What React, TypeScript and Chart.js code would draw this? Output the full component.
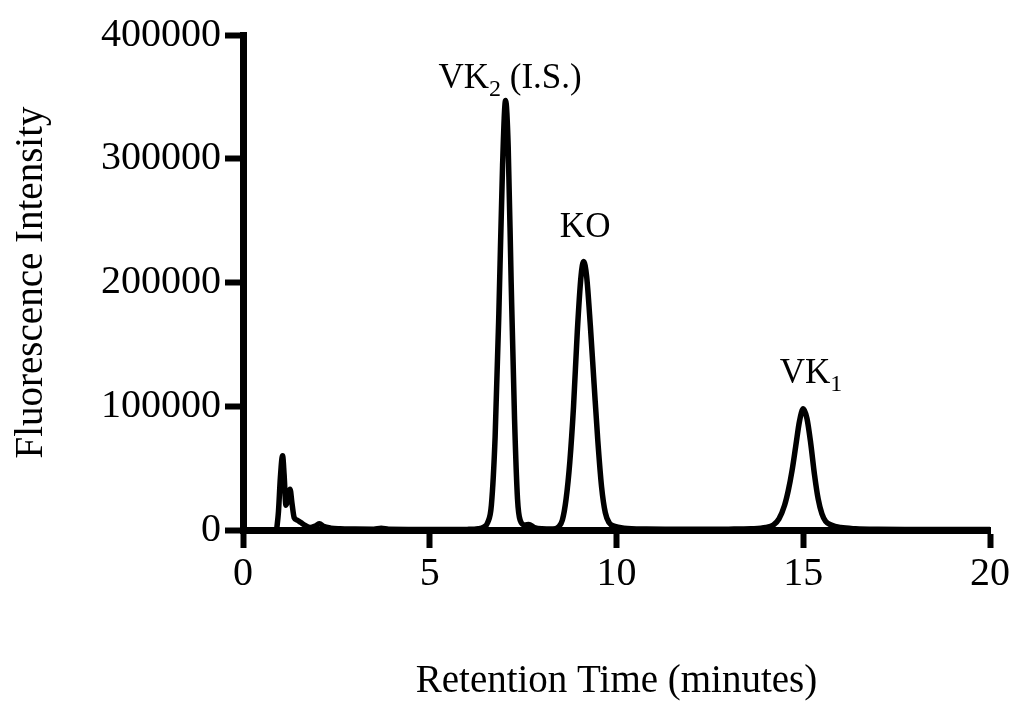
import React, { useEffect, useRef } from "react";
import { Chart, registerables } from "chart.js";

Chart.register(...registerables);

const retentionTime = [
  0.9, 0.95, 1.0, 1.06, 1.1, 1.15, 1.2, 1.26, 1.31, 1.37, 1.45, 1.55, 1.65, 1.8, 1.95, 2.05, 2.15, 2.35, 2.6,
  3.0, 3.5, 3.7, 3.9, 4.5, 5.0, 5.5, 6.0, 6.3, 6.45, 6.55, 6.65, 6.75, 6.85, 6.95, 7.03, 7.1, 7.18, 7.27,
  7.35, 7.42, 7.55, 7.65, 7.8, 8.0, 8.3, 8.45, 8.55, 8.65, 8.75, 8.85, 8.95, 9.05, 9.12, 9.2, 9.3, 9.4,
  9.5, 9.6, 9.7, 9.8, 9.95, 10.2, 10.8, 12.0, 13.0, 13.6, 14.0, 14.2, 14.35, 14.5, 14.6, 14.7, 14.8, 14.9,
  15.0, 15.1, 15.2, 15.3, 15.4, 15.5, 15.6, 15.75, 16.0, 16.4, 17.0, 18.0, 19.0, 20.0,
];

const fluorescence = [
  0, 15000, 42000, 60000, 45000, 20000, 24000, 33000, 22000, 10000, 8000, 6000, 4000, 2000, 3500, 5000, 3000,
  1500, 1000, 800, 700, 1500, 600, 500, 400, 400, 500, 1000, 2500, 6000, 20000, 75000, 175000, 295000, 347000,
  310000, 200000, 90000, 25000, 8000, 4000, 4500, 2000, 1000, 800, 2500, 8000, 25000, 55000, 100000, 160000,
  205000, 217000, 205000, 165000, 118000, 72000, 35000, 14000, 6000, 3000, 1500, 800, 600, 700, 1000, 2000,
  4000, 9000, 20000, 32000, 48000, 68000, 88000, 98000, 90000, 70000, 45000, 25000, 13000, 7000, 4000, 2000,
  1000, 600, 500, 500, 500,
];

const xTicks = [0, 5, 10, 15, 20];
const yTicks = [0, 100000, 200000, 300000, 400000];

const peakNames = ["VK", "KO", "VK"];
const peakSubscripts = ["2", "", "1"];
const peakSuffixes = [" (I.S.)", "", ""];
const labelTime = [7.15, 9.16, 15.21];
const labelValue = [357000, 236800, 118800];

const FONT = "'Liberation Serif', 'Times New Roman', serif";

export default function App() {
  const ref = useRef<HTMLCanvasElement>(null);

  useEffect(() => {
    if (!ref.current) return;
    const points = retentionTime.map((t, i) => ({ x: t, y: fluorescence[i] }));

    const labelPlugin = {
      id: "peakLabels",
      afterDatasetsDraw(chart: any) {
        const { ctx, scales } = chart;
        const xs = scales.x;
        const ys = scales.y;
        ctx.save();
        ctx.fillStyle = "#000";
        ctx.textBaseline = "alphabetic";
        ctx.textAlign = "left";
        const mainFont = `35px ${FONT}`;
        const subFont = `24px ${FONT}`;
        for (let i = 0; i < peakNames.length; i++) {
          ctx.font = mainFont;
          const wMain = ctx.measureText(peakNames[i]).width;
          const wRest = ctx.measureText(peakSuffixes[i]).width;
          ctx.font = subFont;
          const wSub = ctx.measureText(peakSubscripts[i]).width;
          const total = wMain + wSub + wRest;
          let px = xs.getPixelForValue(labelTime[i]) - total / 2;
          const py = ys.getPixelForValue(labelValue[i]);
          ctx.font = mainFont;
          ctx.fillText(peakNames[i], px, py);
          px += wMain;
          ctx.font = subFont;
          ctx.fillText(peakSubscripts[i], px, py + 8);
          px += wSub;
          ctx.font = mainFont;
          ctx.fillText(peakSuffixes[i], px, py);
        }
        ctx.restore();
      },
    };

    const chart = new Chart(ref.current, {
      type: "line",
      data: {
        datasets: [
          {
            data: points,
            borderColor: "#000",
            borderWidth: 5.5,
            pointRadius: 0,
            cubicInterpolationMode: "monotone",
            fill: false,
          },
        ],
      },
      options: {
        responsive: false,
        animation: false,
        layout: { padding: { top: 35, right: 23, left: 0, bottom: 0 } },
        plugins: { legend: { display: false }, tooltip: { enabled: false } },
        scales: {
          x: {
            type: "linear",
            min: 0,
            max: 20,
            afterBuildTicks: (s: any) => {
              s.ticks = xTicks.map((v) => ({ value: v }));
            },
            afterFit: (s: any) => {
              s.height = 177;
            },
            grid: {
              drawOnChartArea: false,
              drawTicks: true,
              tickLength: 18,
              tickWidth: 6,
              tickColor: "#000",
            },
            border: { color: "#000", width: 7 },
            ticks: {
              color: "#000",
              font: { family: FONT, size: 40, lineHeight: 1.2 },
              padding: 2,
              maxRotation: 0,
              autoSkip: false,
              callback: (v: any) => String(v),
            },
            title: {
              display: true,
              text: "Retention Time (minutes)",
              color: "#000",
              font: { family: FONT, size: 39, lineHeight: 1.2 },
              padding: { top: 0, bottom: 2 },
            },
          },
          y: {
            type: "linear",
            min: 0,
            max: 400000,
            afterBuildTicks: (s: any) => {
              s.ticks = yTicks.map((v) => ({ value: v }));
            },
            afterFit: (s: any) => {
              s.width = 243;
            },
            grid: {
              drawOnChartArea: false,
              drawTicks: true,
              tickLength: 18,
              tickWidth: 6,
              tickColor: "#000",
            },
            border: { color: "#000", width: 7 },
            ticks: {
              color: "#000",
              font: { family: FONT, size: 40, lineHeight: 1.2 },
              padding: 4,
              autoSkip: false,
              callback: (v: any) => String(v),
            },
            title: {
              display: true,
              text: "Fluorescence Intensity",
              color: "#000",
              font: { family: FONT, size: 39, lineHeight: 1.2 },
              padding: { top: 8, bottom: 0 },
            },
          },
        },
      },
      plugins: [labelPlugin],
    } as any);

    return () => chart.destroy();
  }, []);

  return (
    <div style={{ position: "fixed", left: 0, top: 0, width: 1013, height: 707, background: "#fff" }}>
      <canvas ref={ref} width={1013} height={707} style={{ display: "block" }} />
    </div>
  );
}
